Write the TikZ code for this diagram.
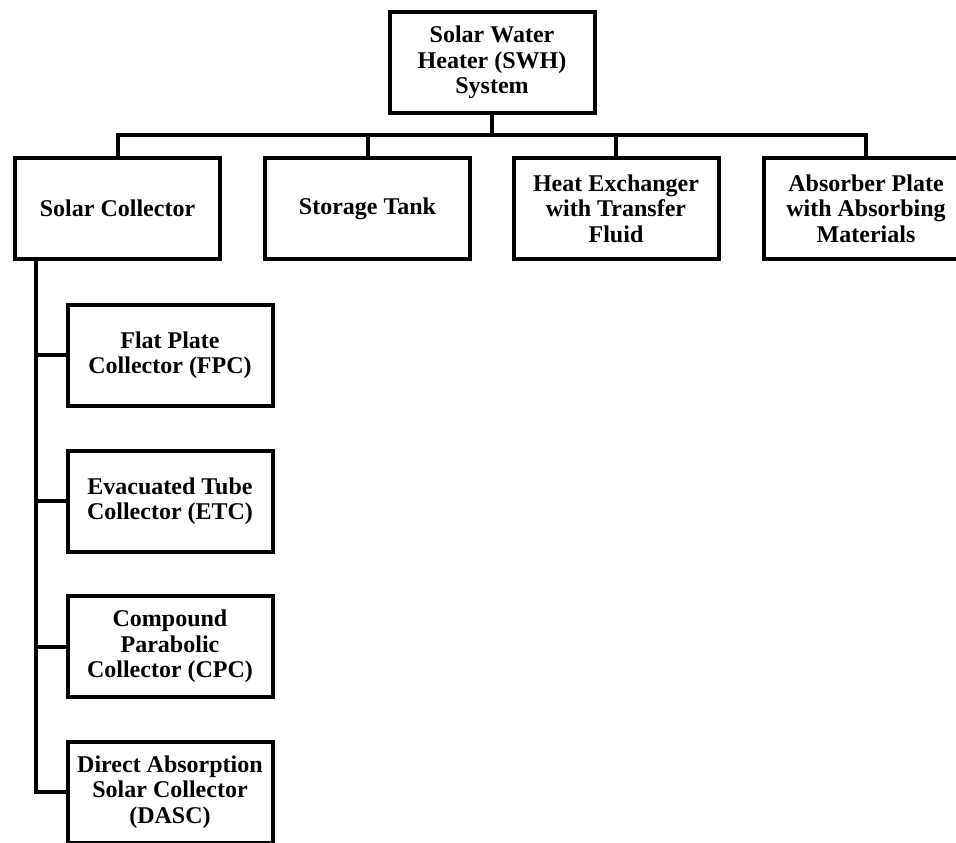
\documentclass[tikz,border=0pt]{standalone}
\usepackage{fontspec}
\setmainfont{Liberation Serif}
\begin{document}
\begin{tikzpicture}[x=1pt,y=-1pt,
  box/.style={draw, line width=4pt, minimum width=205pt, minimum height=101pt,
    align=center, inner sep=0pt, font=\fontsize{24}{25.5}\selectfont\bfseries},
  conn/.style={line width=4pt, line cap=rect, line join=miter}]
\useasboundingbox (0,0) rectangle (956,843);
\clip (0,0) rectangle (956,843);
\node[box] (top) at (492,62.5) {Solar Water\\Heater (SWH)\\System};
\node[box] (sc) at (117.5,208.5) {Solar Collector};
\node[box] (st) at (367.5,208.5) {Storage Tank};
\node[box] (he) at (616,208.5) {Heat Exchanger\\with Transfer\\Fluid};
\node[box] (ab) at (866,208.5) {Absorber Plate\\with Absorbing\\Materials};
\node[box] (fpc) at (170,355) {Flat Plate\\Collector (FPC)};
\node[box] (etcb) at (170,501) {Evacuated Tube\\Collector (ETC)};
\node[box] (cpc) at (170,646.5) {Compound\\Parabolic\\Collector (CPC)};
\node[box] (dasc) at (170,792) {Direct Absorption\\Solar Collector\\(DASC)};
\coordinate (busy) at (0,135);
\coordinate (tr) at (36,0);
\draw[conn] (top.south) -- (top.south |- busy);
\draw[conn] (sc.north) |- (ab.north |- busy) -- (ab.north);
\draw[conn] (st.north) -- (st.north |- busy);
\draw[conn] (he.north) -- (he.north |- busy);
\draw[conn] (sc.south -| tr) |- (dasc.west);
\draw[conn] (fpc.west) -- (fpc.west -| tr);
\draw[conn] (etcb.west) -- (etcb.west -| tr);
\draw[conn] (cpc.west) -- (cpc.west -| tr);
\end{tikzpicture}
\end{document}
